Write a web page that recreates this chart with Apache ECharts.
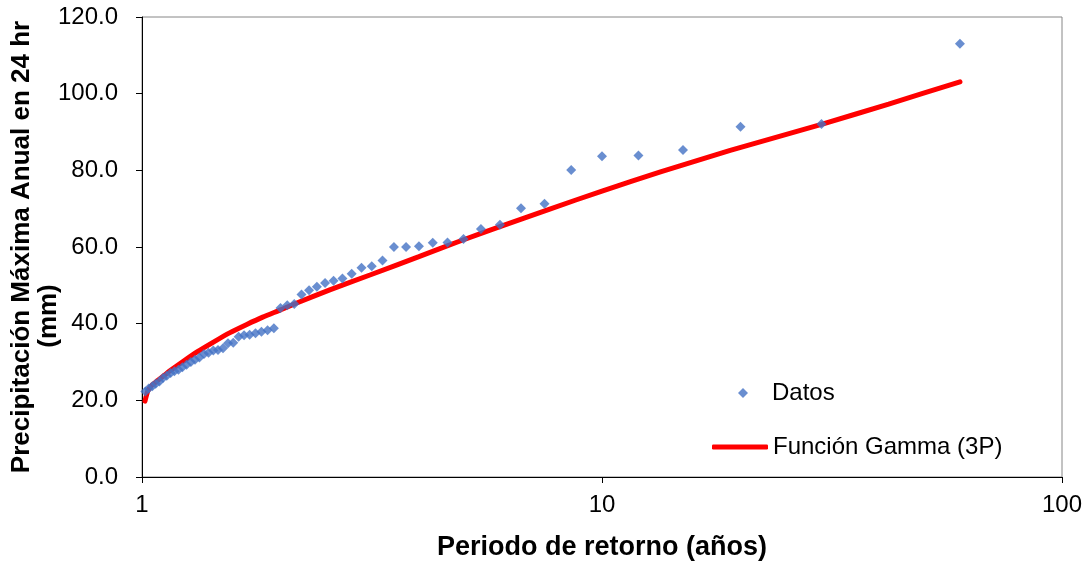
<html>
<head>
<meta http-equiv="Content-Type" content="text/html; charset=utf-8">
<script type="text/javascript" src="https://cdn.jsdelivr.net/npm/echarts@6/dist/echarts.min.js"></script>
<style>
html, body { margin: 0; padding: 0; background: #fff; }
#main { width: 1089px; height: 562px; }
</style>
</head>
<body>
<div id="main"></div>
<script type="text/javascript">
// datos observados (periodo de retorno en años, precipitación en mm)
var retPeriod = [60, 30, 20, 15, 12, 10, 8.571, 7.5, 6.667, 6,
	5.455, 5, 4.615, 4.286, 4, 3.75, 3.529, 3.333, 3.158, 3,
	2.857, 2.727, 2.609, 2.5, 2.4, 2.308, 2.222, 2.143, 2.069, 2,
	1.935, 1.875, 1.818, 1.765, 1.714, 1.667, 1.622, 1.579, 1.538, 1.5,
	1.463, 1.429, 1.395, 1.364, 1.333, 1.304, 1.277, 1.25, 1.224, 1.2,
	1.176, 1.154, 1.132, 1.111, 1.091, 1.071, 1.053, 1.034, 1.017];
var precipMm = [113.0, 92.1, 91.4, 85.3, 83.9, 83.7, 80.1, 71.3, 70.1, 65.8,
	64.7, 62.1, 61.2, 61.1, 60.2, 60.0, 60.0, 56.5, 55.0, 54.6,
	53.0, 51.8, 51.2, 50.6, 49.6, 48.7, 47.6, 45.1, 44.8, 44.1,
	38.8, 38.3, 37.9, 37.5, 37.1, 37.0, 36.6, 35.0, 34.9, 33.6,
	33.1, 33.0, 32.4, 32.1, 31.2, 30.6, 30.0, 29.3, 28.6, 28.0,
	27.6, 27.1, 26.4, 25.8, 24.9, 24.3, 23.7, 23.1, 22.3];

// curva ajustada Gamma (3P)
var fitPeriod = [1.015, 1.03, 1.05, 1.08, 1.12, 1.15, 1.23, 1.32, 1.43, 1.55,
	1.69, 1.83, 2.0, 2.17, 2.56, 3.13, 4.0, 4.9, 6.0, 7.7,
	10, 13.4, 19, 30, 42, 60];
var fitPrecip = [19.8, 22.5, 23.9, 25.1, 26.6, 27.7, 30.2, 32.7, 35.2, 37.6,
	39.8, 41.7, 43.6, 45.4, 48.8, 52.7, 57.5, 61.5, 65.3, 69.9,
	74.6, 79.6, 85.2, 92.0, 97.3, 103.1];

var xTitle = 'Periodo de retorno (años)';
var yTitle = 'Precipitación Máxima Anual en 24 hr';
var yTitle2 = '(mm)';

var font = '"Liberation Sans", Arial, sans-serif';
var legendText = {fontSize: 24, color: '#000', fontFamily: font};

function pairs(xs, ys) {
	var out = [];
	for (var i = 0; i < xs.length; i++) out.push([xs[i], ys[i]]);
	return out;
}

var myChart = echarts.init(document.getElementById('main'), null, {renderer: 'canvas'});
var option = {
	backgroundColor: '#fff',
	animation: false,
	grid: {
		left: 142, right: 27, top: 17, bottom: 85,
		show: true,
		borderColor: '#868686',
		borderWidth: 1,
		outerBoundsMode: 'none'
	},
	legend: [
		{
			left: 733,
			top: 376,
			itemWidth: 10,
			itemHeight: 10,
			data: [{name: 'Datos', icon: 'diamond'}],
			textStyle: {fontSize: 24, color: '#000', fontFamily: font, padding: [0, 0, 0, 19]}
		},
		{
			left: 707,
			top: 430,
			itemWidth: 56,
			itemHeight: 5,
			data: [{name: 'Función Gamma (3P)', icon: 'roundRect'}],
			textStyle: legendText
		}
	],
	xAxis: {
		type: 'log',
		logBase: 10,
		min: 1,
		max: 100,
		name: xTitle,
		nameLocation: 'middle',
		nameGap: 57,
		nameTextStyle: {fontSize: 27, fontWeight: 'bold', color: '#000', fontFamily: font},
		axisLine: {show: true, lineStyle: {color: '#000', width: 1}},
		axisTick: {show: true, length: 6, lineStyle: {color: '#000'}},
		minorTick: {show: false},
		splitLine: {show: false},
		axisLabel: {fontSize: 24, color: '#000', margin: 16, fontFamily: font}
	},
	yAxis: {
		type: 'value',
		min: 0,
		max: 120,
		interval: 20,
		name: yTitle,
		nameLocation: 'middle',
		nameGap: 107,
		nameTextStyle: {fontSize: 26, fontWeight: 'bold', color: '#000', fontFamily: font},
		axisLine: {show: true, lineStyle: {color: '#000', width: 1}},
		axisTick: {show: true, length: 6, lineStyle: {color: '#000'}},
		splitLine: {show: false},
		axisLabel: {
			fontSize: 24, color: '#000', margin: 24, fontFamily: font,
			formatter: function (v) { return v.toFixed(1); }
		}
	},
	graphic: [{
		type: 'text',
		x: 49,
		y: 316,
		rotation: Math.PI / 2,
		style: {
			text: yTitle2,
			font: 'bold 26px ' + font,
			align: 'center',
			verticalAlign: 'middle',
			fill: '#000'
		}
	}],
	series: [
		{
			name: 'Función Gamma (3P)',
			type: 'line',
			data: pairs(fitPeriod, fitPrecip),
			symbol: 'none',
			smooth: 0.2,
			z: 2,
			lineStyle: {color: '#ff0000', width: 5, cap: 'round'},
			itemStyle: {color: '#ff0000'}
		},
		{
			name: 'Datos',
			type: 'scatter',
			data: pairs(retPeriod, precipMm),
			symbol: 'diamond',
			symbolSize: 10,
			z: 3,
			itemStyle: {color: '#4472c4'}
		}
	]
};
myChart.setOption(option);
</script>
</body>
</html>
